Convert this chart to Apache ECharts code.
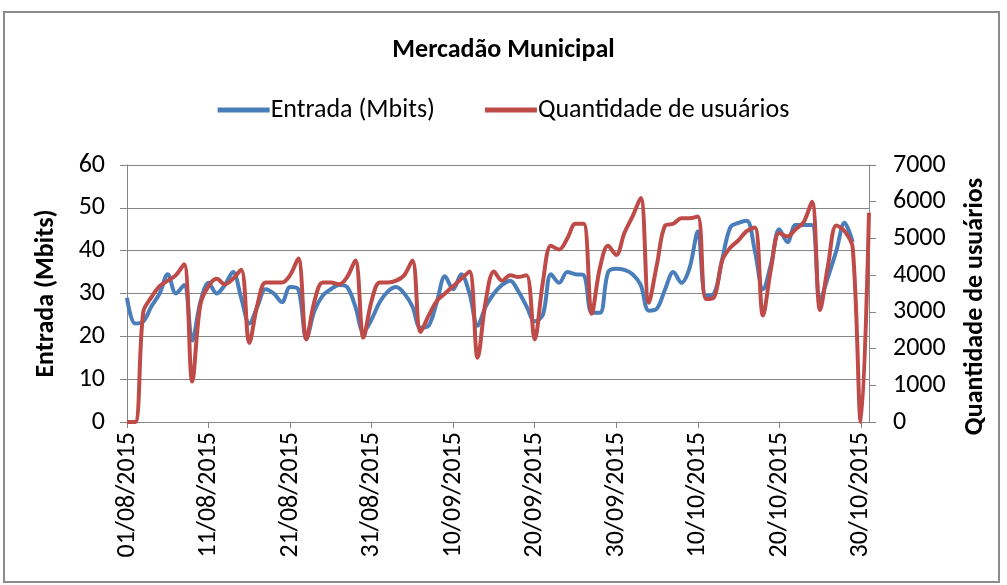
<!DOCTYPE html>
<html>
<head>
<meta charset="utf-8">
<script src="https://cdn.jsdelivr.net/npm/echarts@6/dist/echarts.min.js"></script>
<style>
  html, body { margin: 0; padding: 0; background: #fff; }
  #chart { width: 1007px; height: 585px; }
</style>
</head>
<body>
<div id="chart"></div>
<script>
// daily values 01/08/2015 .. 31/10/2015
const startDate = new Date(2015, 7, 1);
const dayCount = 92;

const entrada = [
  29, 23, 23.5, 27, 30, 34.5, 30, 32, 19, 28,
  32.5, 30, 32, 35, 29, 23, 27, 31, 30, 28,
  31.5, 31, 19.5, 26, 29.5, 31, 32, 31.5, 27, 21,
  24, 28, 30.5, 31.5, 30, 27, 22, 22.5, 28, 34,
  31, 34.5, 30, 22.5, 27, 30, 32, 33, 30.5, 27,
  23.5, 25, 34.5, 32.5, 35, 34.5, 34.3, 25.5, 25.5, 35,
  35.8, 35.5, 34.5, 32, 26, 26.5, 31, 35, 32.5, 36,
  44.5, 29.5, 30, 38, 45.5, 46.5, 47, 40, 31, 37,
  45, 42, 46, 46, 46, 28.5, 34, 40, 46.5, 42,
  null, null
];

const usuarios = [
  0, 0, 3000, 3400, 3700, 3850, 4000, 4300, 1100, 3200,
  3700, 3900, 3750, 3900, 4150, 2150, 3200, 3800, 3800, 3800,
  4000, 4450, 2250, 3300, 3800, 3800, 3750, 3950, 4400, 2300,
  3300, 3800, 3800, 3850, 4000, 4400, 2450, 2900, 3300, 3500,
  3700, 3900, 4100, 1750, 3300, 4100, 3850, 4000, 3950, 4000,
  2250, 3800, 4800, 4700, 5000, 5400, 5400, 2950, 4200, 4800,
  4550, 5150, 5600, 6100, 3250, 4300, 5350, 5400, 5550, 5550,
  5600, 3350, 3400, 4400, 4750, 4950, 5200, 5300, 2900, 4200,
  5150, 5050, 5250, 5450, 6000, 3050, 4300, 5350, 5200, 4750,
  0, 5700
];

const pad = n => (n < 10 ? '0' : '') + n;
const dias = [];
for (let i = 0; i < dayCount; i++) {
  const d = new Date(startDate.getTime() + i * 86400000);
  dias.push(pad(d.getDate()) + '/' + pad(d.getMonth() + 1) + '/' + d.getFullYear());
}

const font = 'Carlito, Lato, "Open Sans", sans-serif';
const axisGrey = '#868686';

const chart = echarts.init(document.getElementById('chart'));
chart.setOption({
  animation: false,
  textStyle: { fontFamily: font },
  graphic: [{
    type: 'rect',
    shape: { x: 4, y: 12, width: 995, height: 570 },
    style: { fill: 'none', stroke: '#8c8c8c', lineWidth: 2 }
  }],
  title: {
    text: 'Mercadão Municipal',
    left: 'center',
    top: 32,
    textStyle: { fontFamily: font, fontSize: 26, fontWeight: 'bold', color: '#000' }
  },
  legend: {
    top: 92,
    left: 'center',
    itemWidth: 52,
    itemHeight: 5,
    itemGap: 50,
    icon: 'rect',
    textStyle: { fontFamily: font, fontSize: 26, color: '#000', padding: [0, 0, 0, -4] },
    data: ['Entrada (Mbits)', 'Quantidade de usuários']
  },
  grid: { left: 127, right: 138, top: 165, bottom: 163 },
  xAxis: {
    type: 'category',
    data: dias,
    boundaryGap: false,
    axisLine: { lineStyle: { color: axisGrey } },
    axisTick: { interval: 9, length: 6, lineStyle: { color: axisGrey } },
    axisLabel: { interval: 9, rotate: 90, fontSize: 26, color: '#000', margin: 10, fontFamily: font }
  },
  yAxis: [{
    type: 'value',
    min: 0, max: 60, interval: 10,
    name: 'Entrada (Mbits)',
    nameLocation: 'middle',
    nameGap: 68,
    nameTextStyle: { fontSize: 26, fontWeight: 'bold', color: '#000', fontFamily: font },
    axisLine: { show: true, lineStyle: { color: axisGrey } },
    axisTick: { show: true, length: 7, lineStyle: { color: axisGrey } },
    axisLabel: { fontSize: 26, color: '#000', margin: 22, fontFamily: font },
    splitLine: { lineStyle: { color: axisGrey, width: 1 } }
  }, {
    type: 'value',
    min: 0, max: 7000, interval: 1000,
    name: 'Quantidade de usuários',
    nameLocation: 'middle',
    nameGap: 93,
    nameTextStyle: { fontSize: 26, fontWeight: 'bold', color: '#000', fontFamily: font, padding: [0, 26, 0, 0] },
    axisLine: { show: true, lineStyle: { color: axisGrey } },
    axisTick: { show: true, length: 7, lineStyle: { color: axisGrey } },
    axisLabel: { fontSize: 26, color: '#000', margin: 24, fontFamily: font, formatter: v => String(v) },
    splitLine: { show: false }
  }],
  series: [{
    name: 'Entrada (Mbits)',
    type: 'line',
    yAxisIndex: 0,
    data: entrada,
    smooth: 0.35,
    showSymbol: false,
    connectNulls: false,
    itemStyle: { color: '#4a7ebb' },
    lineStyle: { color: '#4a7ebb', width: 4 }
  }, {
    name: 'Quantidade de usuários',
    type: 'line',
    yAxisIndex: 1,
    data: usuarios,
    smooth: 0.35,
    showSymbol: false,
    itemStyle: { color: '#be4b48' },
    lineStyle: { color: '#be4b48', width: 4 }
  }]
});
</script>
</body>
</html>
